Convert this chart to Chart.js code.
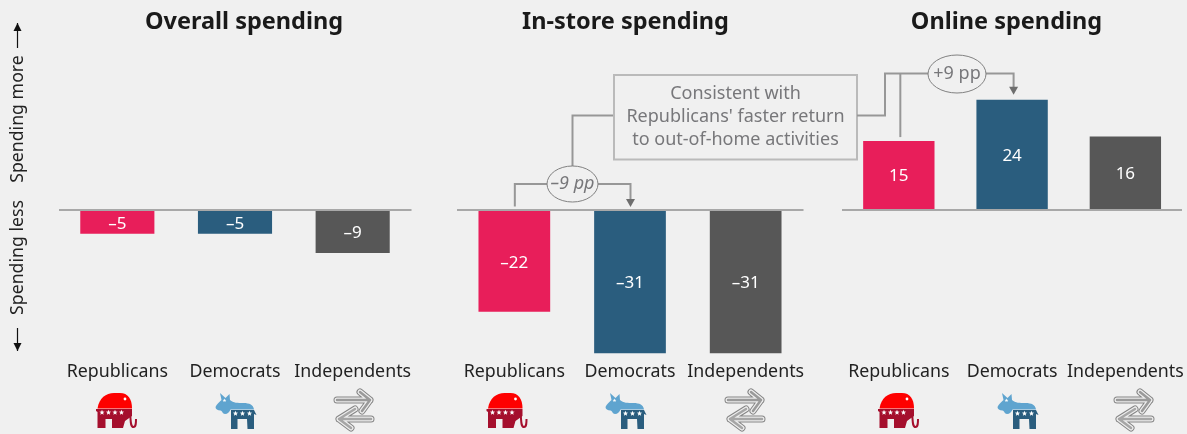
<!DOCTYPE html>
<html>
<head>
<meta charset="utf-8">
<title>Spending by party</title>
<script src="https://cdn.jsdelivr.net/npm/chart.js@4/dist/chart.umd.min.js"></script>
<style>
    body { margin: 0; background: #f0f0f0; overflow: hidden; }
    #wrap { position: relative; width: 1187px; height: 434px; }
    canvas { position: absolute; left: 0; top: 0; }
</style>
</head>
<body>
<div id="wrap">
    <canvas id="overall" width="1187" height="434"></canvas>
    <canvas id="instore" width="1187" height="434"></canvas>
    <canvas id="online" width="1187" height="434"></canvas>
</div>
<script>
const categories = ['Republicans', 'Democrats', 'Independents'];
const overallValues = [-5, -5, -9];
const inStoreValues = [-22, -31, -31];
const onlineValues = [15, 24, 16];
const barColors = ['#e81e5a', '#2a5d7e', '#575757'];
const calloutLines = ['Consistent with', "Republicans' faster return", 'to out-of-home activities'];

const FONT = '"Noto Sans", sans-serif';
const LINE = '#979797';
const NOTE = '#77777a';

function formatValue(v) {
    return v < 0 ? '\u2013' + Math.abs(v) : String(v);
}

function star(ctx, cx, cy, r) {
    ctx.fillStyle = '#fff';
    ctx.beginPath();
    for (let i = 0; i < 10; i++) {
        const a = -Math.PI / 2 + i * Math.PI / 5;
        const d = i % 2 ? r * 0.42 : r;
        ctx.lineTo(cx + Math.cos(a) * d, cy + Math.sin(a) * d);
    }
    ctx.fill();
}

function drawElephant(ctx, x, y) {
    ctx.save();
    ctx.translate(x, y);
    ctx.fillStyle = '#fe0000';
    ctx.beginPath();
    ctx.moveTo(1.5, 15.5);
    ctx.bezierCurveTo(3, 5, 10, 0, 18, 0);
    ctx.lineTo(24, 0);
    ctx.bezierCurveTo(32, 0, 36, 6, 36, 15.5);
    ctx.closePath();
    ctx.fill();
    ctx.fillStyle = '#a50f2d';
    ctx.beginPath();
    ctx.moveTo(0, 16);
    ctx.lineTo(36, 16);
    ctx.lineTo(36, 23);
    ctx.lineTo(29, 28);
    ctx.lineTo(27, 35);
    ctx.lineTo(16, 35);
    ctx.lineTo(16, 26);
    ctx.lineTo(9.5, 26);
    ctx.lineTo(9.5, 35);
    ctx.lineTo(1.5, 35);
    ctx.lineTo(1.5, 19);
    ctx.lineTo(0, 18);
    ctx.closePath();
    ctx.fill();
    ctx.strokeStyle = '#a50f2d';
    ctx.lineWidth = 2;
    ctx.beginPath();
    ctx.moveTo(34, 20);
    ctx.bezierCurveTo(35, 27, 34, 34, 37.5, 34);
    ctx.bezierCurveTo(40, 34, 40, 30, 40, 26);
    ctx.stroke();
    ctx.fillStyle = '#fff';
    ctx.beginPath();
    ctx.arc(29, 6, 1.4, 0, Math.PI * 2);
    ctx.fill();
    [6, 12.5, 19, 25.5].forEach(sx => star(ctx, sx, 19.5, 2.8));
    ctx.restore();
}

function drawDonkey(ctx, x, y) {
    ctx.save();
    ctx.translate(x, y);
    ctx.fillStyle = '#5fa4cf';
    ctx.beginPath();
    ctx.moveTo(0, 14);
    ctx.bezierCurveTo(1, 11, 4, 9, 6, 7);
    ctx.lineTo(4.5, 0);
    ctx.lineTo(10, 5);
    ctx.lineTo(14, 1);
    ctx.lineTo(14.5, 7);
    ctx.bezierCurveTo(18, 10, 22, 10, 28, 10);
    ctx.bezierCurveTo(34, 10, 38, 12, 38.5, 16.5);
    ctx.lineTo(15, 16.5);
    ctx.bezierCurveTo(14, 19, 12, 21, 9.5, 21);
    ctx.bezierCurveTo(7, 21, 7, 18, 5, 17.5);
    ctx.bezierCurveTo(2, 17.5, 0, 16, 0, 14);
    ctx.closePath();
    ctx.fill();
    ctx.fillStyle = '#2a5d7e';
    ctx.beginPath();
    ctx.moveTo(15.5, 17);
    ctx.lineTo(38.5, 17);
    ctx.lineTo(41, 22);
    ctx.lineTo(38.5, 21);
    ctx.lineTo(38.5, 36);
    ctx.lineTo(32, 36);
    ctx.lineTo(31.5, 26);
    ctx.lineTo(22, 26);
    ctx.lineTo(22, 36);
    ctx.lineTo(15.5, 36);
    ctx.closePath();
    ctx.fill();
    star(ctx, 20, 20.5, 2.8);
    star(ctx, 27, 20.5, 2.8);
    star(ctx, 34, 20.5, 2.8);
    star(ctx, 9, 7.5, 2);
    ctx.restore();
}

function arrowStroke(ctx, pts, inner) {
    const trace = () => {
        ctx.beginPath();
        pts.forEach(run => {
            run.forEach((p, i) => i ? ctx.lineTo(p[0], p[1]) : ctx.moveTo(p[0], p[1]));
        });
    };
    ctx.lineCap = 'round';
    ctx.lineJoin = 'round';
    ctx.strokeStyle = '#858585';
    ctx.lineWidth = 7;
    trace();
    ctx.stroke();
    ctx.strokeStyle = '#ededed';
    ctx.lineWidth = 5;
    trace();
    ctx.stroke();
    ctx.strokeStyle = inner;
    ctx.lineWidth = 2.5;
    trace();
    ctx.stroke();
}

function drawArrows(ctx, x, y) {
    ctx.save();
    ctx.translate(x, y);
    arrowStroke(ctx, [[[2, 12], [35, 12]], [[25, 4], [35, 12], [27, 23]]], '#9a9a9a');
    arrowStroke(ctx, [[[36, 31], [4, 31]], [[20, 21], [4, 31], [16, 40]]], '#a6a6a6');
    ctx.restore();
}

const iconDrawers = [drawElephant, drawDonkey, drawArrows];

// white value label in the middle of every bar
const barLabels = {
    id: 'barLabels',
    afterDatasetsDraw(chart) {
        const ctx = chart.ctx;
        ctx.save();
        ctx.fillStyle = '#fff';
        ctx.font = '17px ' + FONT;
        ctx.textAlign = 'center';
        ctx.textBaseline = 'middle';
        chart.getDatasetMeta(0).data.forEach((bar, i) => {
            const v = chart.data.datasets[0].data[i];
            ctx.fillText(formatValue(v), bar.x, (bar.y + bar.base) / 2 + 1.5);
        });
        ctx.restore();
    }
};

// panel heading and the party icons under the category labels
const panelDecor = {
    id: 'panelDecor',
    afterDraw(chart, args, opts) {
        const ctx = chart.ctx;
        ctx.save();
        ctx.fillStyle = '#1a1a1a';
        ctx.font = 'bold 23.5px ' + FONT;
        ctx.textAlign = 'center';
        ctx.textBaseline = 'middle';
        ctx.fillText(opts.title, opts.titleX, 22);
        ctx.restore();
        iconDrawers.forEach((draw, i) => {
            draw(ctx, opts.iconX[i], i === 2 ? 388 : 393);
        });
    }
};

function elbow(ctx, pts, color, width) {
    ctx.strokeStyle = color || LINE;
    ctx.lineWidth = width || 2;
    ctx.beginPath();
    pts.forEach((p, i) => i ? ctx.lineTo(p[0], p[1]) : ctx.moveTo(p[0], p[1]));
    ctx.stroke();
}

function downTip(ctx, x, y) {
    ctx.fillStyle = '#6e6e6e';
    ctx.beginPath();
    ctx.moveTo(x - 4.5, y - 8);
    ctx.lineTo(x + 4.5, y - 8);
    ctx.lineTo(x, y);
    ctx.closePath();
    ctx.fill();
}

function bubble(ctx, cx, cy, rx, ry, label, italic) {
    ctx.strokeStyle = '#808080';
    ctx.lineWidth = 1;
    ctx.beginPath();
    ctx.ellipse(cx, cy, rx, ry, 0, 0, Math.PI * 2);
    ctx.stroke();
    ctx.fillStyle = NOTE;
    ctx.font = (italic ? 'italic ' : '') + '18px ' + FONT;
    ctx.textAlign = 'center';
    ctx.textBaseline = 'middle';
    ctx.fillText(label, cx, cy);
}

// gap bracket between Republicans and Democrats plus the shared note box
const inStoreNotes = {
    id: 'inStoreNotes',
    afterDraw(chart) {
        const ctx = chart.ctx;
        const x = chart.scales.x;
        const y = chart.scales.y;
        const zero = y.getPixelForValue(0);
        const from = x.getPixelForValue(0) + 0.5;
        const to = x.getPixelForValue(1) + 0.5;
        ctx.save();
        elbow(ctx, [[from, zero - 3.5], [from, 184], [547, 184]]);
        elbow(ctx, [[598, 184], [to, 184], [to, zero - 10]]);
        downTip(ctx, to, zero - 3);
        elbow(ctx, [[572.5, 166], [572.5, 115.5], [614, 115.5]]);
        bubble(ctx, 572.5, 184, 25.5, 18, '\u20139 pp', true);

        ctx.strokeStyle = '#bababa';
        ctx.lineWidth = 2;
        ctx.strokeRect(614, 75, 243, 84.5);
        ctx.fillStyle = NOTE;
        ctx.font = '18px ' + FONT;
        ctx.textAlign = 'center';
        ctx.textBaseline = 'middle';
        calloutLines.forEach((line, i) => ctx.fillText(line, 735.5, 93.5 + i * 23));
        ctx.restore();
    }
};

const onlineNotes = {
    id: 'onlineNotes',
    afterDraw(chart) {
        const ctx = chart.ctx;
        const x = chart.scales.x;
        const y = chart.scales.y;
        const from = x.getPixelForValue(0) + 1.5;
        const to = x.getPixelForValue(1) + 1.5;
        ctx.save();
        elbow(ctx, [[857, 115.5], [885, 115.5], [885, 73.5], [928, 73.5]]);
        elbow(ctx, [[from, 73.5], [from, y.getPixelForValue(onlineValues[0]) - 4]]);
        elbow(ctx, [[986, 73.5], [to, 73.5], [to, y.getPixelForValue(onlineValues[1]) - 12]]);
        downTip(ctx, to, y.getPixelForValue(onlineValues[1]) - 5);
        bubble(ctx, 957, 74, 29, 19, '+9 pp', false);
        ctx.restore();
    }
};

// rotated direction labels at the far left
const sideAxis = {
    id: 'sideAxis',
    afterDraw(chart) {
        const ctx = chart.ctx;
        ctx.save();
        ctx.fillStyle = '#222';
        ctx.font = '17.7px ' + FONT;
        ctx.textAlign = 'center';
        ctx.textBaseline = 'middle';
        [['Spending more', 119], ['Spending less', 257.5]].forEach(([label, cy]) => {
            ctx.save();
            ctx.translate(18, cy);
            ctx.rotate(-Math.PI / 2);
            ctx.fillText(label, 0, 0);
            ctx.restore();
        });
        ctx.strokeStyle = '#111';
        ctx.fillStyle = '#111';
        ctx.lineWidth = 1.2;
        [[48, 23, 1], [328, 351, -1]].forEach(([start, tip, dir]) => {
            ctx.beginPath();
            ctx.moveTo(17.5, start);
            ctx.lineTo(17.5, tip);
            ctx.stroke();
            ctx.beginPath();
            ctx.moveTo(17.5, tip);
            ctx.lineTo(13.5, tip + dir * 8);
            ctx.lineTo(21.5, tip + dir * 8);
            ctx.closePath();
            ctx.fill();
        });
        ctx.restore();
    }
};

function makePanel(id, values, left, right, yMin, yMax, barPct, decor, extra) {
    return new Chart(document.getElementById(id), {
        type: 'bar',
        data: {
            labels: categories,
            datasets: [{
                data: values,
                backgroundColor: barColors,
                borderWidth: 0,
                barPercentage: barPct,
                categoryPercentage: 1
            }]
        },
        plugins: [barLabels, panelDecor].concat(extra),
        options: {
            responsive: false,
            animation: false,
            layout: { padding: { left: left, right: 1187 - right, top: 40, bottom: 0 } },
            plugins: {
                legend: { display: false },
                title: { display: false },
                tooltip: { enabled: false },
                panelDecor: decor
            },
            scales: {
                x: {
                    grid: { display: false },
                    border: { display: false },
                    afterFit(scale) { scale.height = 78; },
                    ticks: {
                        color: '#222',
                        padding: -3,
                        autoSkip: false,
                        maxRotation: 0,
                        font: { family: FONT, size: 17.8 }
                    }
                },
                y: {
                    min: yMin,
                    max: yMax,
                    border: { display: false },
                    afterFit(scale) { scale.width = 0; },
                    afterBuildTicks(scale) { scale.ticks = [{ value: 0 }]; },
                    ticks: { display: false },
                    grid: {
                        drawTicks: false,
                        z: 1,
                        lineWidth: 2,
                        color: 'rgba(120,120,120,0.6)'
                    }
                }
            }
        }
    });
}

makePanel('overall', overallValues, 58.5, 411.5, -30.55, 35.56, 0.63,
    { title: 'Overall spending', titleX: 244, iconX: [96, 215.5, 335] }, [sideAxis]);
makePanel('instore', inStoreValues, 456.5, 803.5, -31.6, 36.8, 0.62,
    { title: 'In-store spending', titleX: 625.5, iconX: [486.5, 605.5, 726] }, [inStoreNotes]);
makePanel('online', onlineValues, 842.2, 1182, -31.79, 37.01, 0.63,
    { title: 'Online spending', titleX: 1006.5, iconX: [878, 997.5, 1115] }, [onlineNotes]);
</script>
</body>
</html>
